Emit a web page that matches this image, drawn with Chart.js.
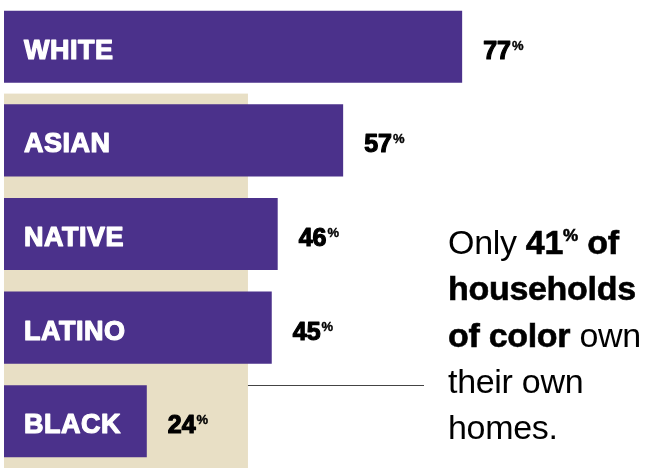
<!DOCTYPE html>
<html>
<head>
<meta charset="utf-8">
<script src="https://cdn.jsdelivr.net/npm/chart.js@4"></script>
<style>
    html, body { margin: 0; padding: 0; background: #fff; }
    #wrap { position: relative; width: 650px; height: 468px; }
    #note {
        position: absolute;
        left: 448px;
        top: 213px;
        font-family: "Liberation Sans", Arial, sans-serif;
        font-size: 34px;
        line-height: 46.3px;
        color: #000;
        white-space: nowrap;
        letter-spacing: -0.3px;
    }
    #note b { font-weight: bold; -webkit-text-stroke: 0.6px #000; }
    #note .pct { font-size: 17px; vertical-align: 13px; letter-spacing: 0; }
</style>
</head>
<body>
<div id="wrap">
    <canvas id="homeChart"></canvas>
    <div id="note">Only <b>41<span class="pct">%</span> of</b><br><b>households</b><br><b>of color</b> own<br>their own<br>homes.</div>
</div>
<script>
// data
const groups = ['WHITE', 'ASIAN', 'NATIVE', 'LATINO', 'BLACK'];
const ownership = [77, 57, 46, 45, 24];
const colorAverage = 41; // households of color, shaded band

const purple = '#4b318b';
const beige = '#e8dfc5';

// heavier text: fill plus a thin stroke in the same colour
function heavyText(ctx, txt, x, y, color, weight) {
    ctx.fillStyle = color;
    ctx.strokeStyle = color;
    ctx.lineWidth = weight;
    ctx.lineJoin = 'round';
    ctx.fillText(txt, x, y);
    ctx.strokeText(txt, x, y);
}

// band, labels and connector line
const labelPlugin = {
    id: 'barLabels',
    beforeDatasetsDraw(chart) {
        const ctx = chart.ctx;
        const x = chart.scales.x;
        const bars = chart.getDatasetMeta(0).data;
        const top = (bars[0].y + bars[0].height / 2 + bars[1].y - bars[1].height / 2) / 2;
        ctx.save();
        ctx.fillStyle = beige;
        ctx.fillRect(x.getPixelForValue(0), top, x.getPixelForValue(colorAverage) - x.getPixelForValue(0), chart.chartArea.bottom - top);
        ctx.restore();
    },
    afterDatasetsDraw(chart) {
        const ctx = chart.ctx;
        const x = chart.scales.x;
        const bars = chart.getDatasetMeta(0).data;
        ctx.save();
        ctx.textBaseline = 'alphabetic';
        ctx.textAlign = 'left';
        bars.forEach((bar, i) => {
            const base = bar.y + 12;
            // group name inside bar
            ctx.font = 'bold 27px "Liberation Sans", Arial, sans-serif';
            ctx.letterSpacing = '0.5px';
            heavyText(ctx, groups[i], x.getPixelForValue(0) + 20, base, '#fff', 1.2);
            // value after bar
            ctx.letterSpacing = '0px';
            ctx.font = 'bold 25px "Liberation Sans", Arial, sans-serif';
            const vx = bar.x + 21;
            const txt = String(ownership[i]);
            heavyText(ctx, txt, vx, base, '#000', 1.2);
            const w = ctx.measureText(txt).width;
            ctx.font = 'bold 13px "Liberation Sans", Arial, sans-serif';
            heavyText(ctx, '%', vx + w + 1, base - 9, '#000', 0.4);
        });
        // connector to the note
        const last = bars[bars.length - 1];
        const ly = Math.round(last.y - last.height / 2) + 0.5;
        ctx.strokeStyle = '#444';
        ctx.lineWidth = 1;
        ctx.beginPath();
        ctx.moveTo(x.getPixelForValue(colorAverage), ly);
        ctx.lineTo(424, ly);
        ctx.stroke();
        ctx.restore();
    }
};

const ctx = document.getElementById('homeChart').getContext('2d');

new Chart(ctx, {
    type: 'bar',
    data: {
        labels: groups,
        datasets: [
            {
                data: ownership,
                backgroundColor: purple,
                borderWidth: 0,
                categoryPercentage: 1,
                barPercentage: 0.77
            }
        ]
    },
    options: {
        indexAxis: 'y',
        responsive: true,
        maintainAspectRatio: false,
        animation: false,
        layout: {
            padding: { left: 4, right: 51, top: -2, bottom: 0 }
        },
        plugins: {
            legend: { display: false },
            tooltip: { enabled: false }
        },
        scales: {
            x: { display: false, min: 0, max: 100 },
            y: { display: false }
        }
    },
    plugins: [labelPlugin]
});
</script>
</body>
</html>
